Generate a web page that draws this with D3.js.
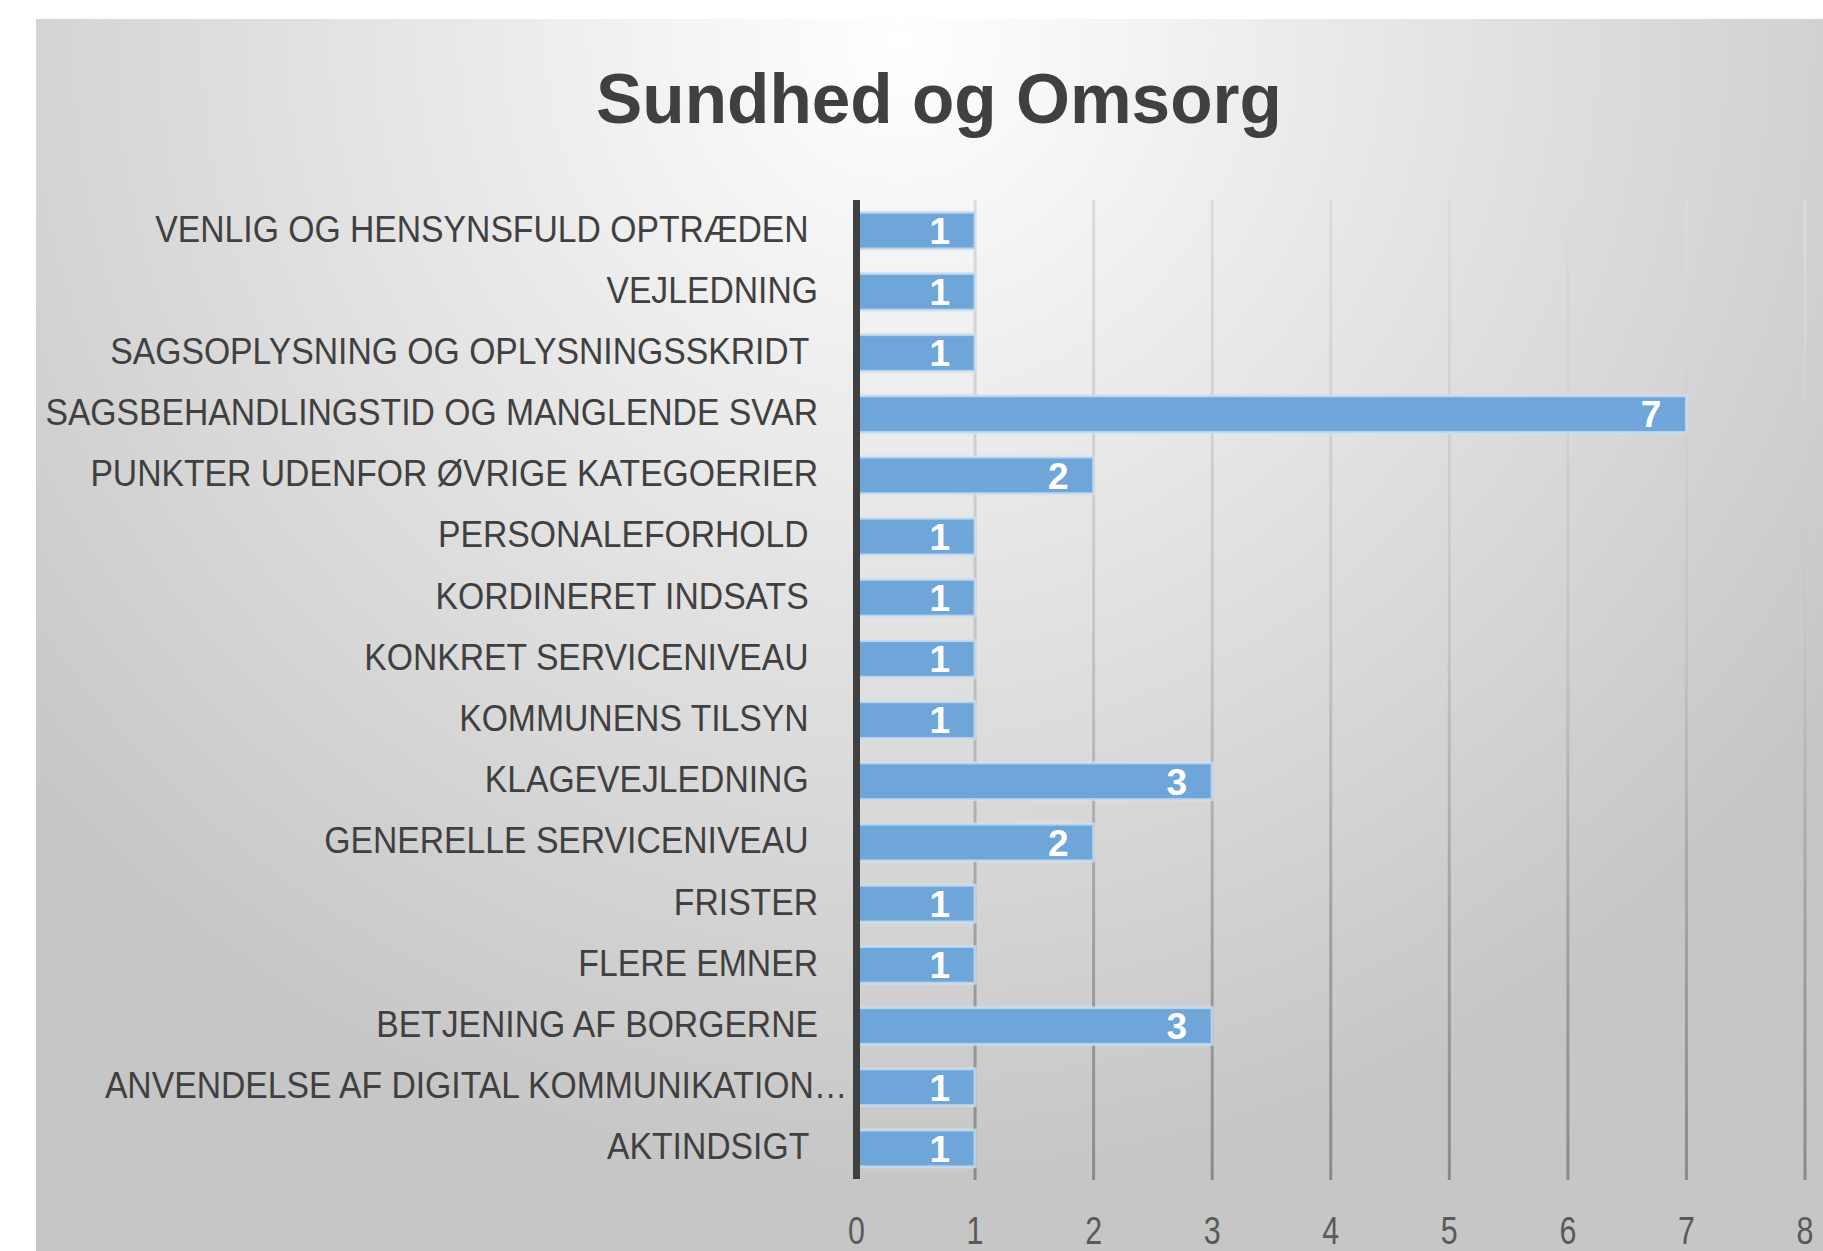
<!DOCTYPE html>
<html>
<head>
<meta charset="utf-8">
<script src="https://cdn.jsdelivr.net/npm/d3@7"></script>
<style>
  body { margin: 0; background: #fff; }
  text { font-family: "Liberation Sans", Arial, sans-serif; white-space: pre; }
</style>
</head>
<body>
<svg id="chart" width="1823" height="1251"></svg>
<script>
// categories as Excel stores them (drawn bottom to top)
const categories = [
  'AKTINDSIGT ',
  'ANVENDELSE AF DIGITAL KOMMUNIKATION…',
  'BETJENING AF BORGERNE',
  'FLERE EMNER',
  'FRISTER',
  'GENERELLE SERVICENIVEAU ',
  'KLAGEVEJLEDNING ',
  'KOMMUNENS TILSYN ',
  'KONKRET SERVICENIVEAU ',
  'KORDINERET INDSATS ',
  'PERSONALEFORHOLD ',
  'PUNKTER UDENFOR ØVRIGE KATEGOERIER',
  'SAGSBEHANDLINGSTID OG MANGLENDE SVAR',
  'SAGSOPLYSNING OG OPLYSNINGSSKRIDT ',
  'VEJLEDNING',
  'VENLIG OG HENSYNSFULD OPTRÆDEN '
];
const values = [1, 1, 3, 1, 1, 2, 3, 1, 1, 1, 1, 2, 7, 1, 1, 1];
const ticks = [0, 1, 2, 3, 4, 5, 6, 7, 8];
const title = 'Sundhed og Omsorg';

const svg = d3.select('#chart');
const defs = svg.append('defs');

// background glow
const bg = defs.append('radialGradient')
  .attr('id', 'bg')
  .attr('gradientUnits', 'userSpaceOnUse')
  .attr('cx', 900).attr('cy', 40).attr('r', 1150);
bg.append('stop').attr('offset', '0%').attr('stop-color', '#ffffff');
bg.append('stop').attr('offset', '100%').attr('stop-color', '#c6c6c6');

// gridlines get darker towards the bottom
const gg = defs.append('linearGradient')
  .attr('id', 'grid')
  .attr('gradientUnits', 'userSpaceOnUse')
  .attr('x1', 0).attr('y1', 200).attr('x2', 0).attr('y2', 1180);
gg.append('stop').attr('offset', '0%').attr('stop-color', '#dcdcdc');
gg.append('stop').attr('offset', '46%').attr('stop-color', '#c4c4c4');
gg.append('stop').attr('offset', '75%').attr('stop-color', '#a0a0a0');
gg.append('stop').attr('offset', '100%').attr('stop-color', '#8a8a8a');

svg.append('rect')
  .attr('x', 36).attr('y', 19)
  .attr('width', 1823 - 36).attr('height', 1251 - 19)
  .attr('fill', 'url(#bg)');

const x = d3.scaleLinear().domain([0, 8]).range([856.5, 1805]);
const y = d3.scaleBand()
  .domain(categories.slice().reverse())
  .range([200, 1179])
  .paddingInner(0.4)
  .paddingOuter(0.2);

// gridlines
svg.append('g')
  .selectAll('line')
  .data(ticks.slice(1))
  .enter()
  .append('line')
  .attr('x1', d => x(d)).attr('x2', d => x(d))
  .attr('y1', 200).attr('y2', 1180)
  .attr('stroke', 'url(#grid)')
  .attr('stroke-width', 3);

// bars
svg.append('g')
  .selectAll('rect')
  .data(categories)
  .enter()
  .append('rect')
  .attr('x', x(0))
  .attr('y', d => y(d))
  .attr('width', (d, i) => x(values[i]) - x(0))
  .attr('height', y.bandwidth())
  .attr('fill', '#6fa6da')
  .attr('stroke', '#cfe0f2')
  .attr('stroke-opacity', 0.75)
  .attr('stroke-width', 3);

// value labels
svg.append('g')
  .selectAll('text')
  .data(categories)
  .enter()
  .append('text')
  .attr('x', (d, i) => x(values[i]) - 25)
  .attr('y', d => y(d) + y.bandwidth() / 2)
  .attr('dy', '0.36em')
  .attr('text-anchor', 'end')
  .attr('font-size', 37)
  .attr('font-weight', 'bold')
  .attr('fill', '#ffffff')
  .text((d, i) => values[i]);

// category axis line
svg.append('line')
  .attr('x1', x(0)).attr('x2', x(0))
  .attr('y1', 200).attr('y2', 1179)
  .attr('stroke', '#404040')
  .attr('stroke-width', 7);

// category labels, squeezed sideways like the original
const labels = svg.append('g')
  .selectAll('g')
  .data(categories)
  .enter()
  .append('g');
labels.append('text')
  .attr('text-anchor', 'end')
  .attr('dy', '0.35em')
  .attr('font-size', 37)
  .attr('fill', '#404040')
  .text(d => d);
let longest = labels.filter(d => d.startsWith('SAGSBEHANDLING')).select('text').node().getComputedTextLength();
const sx = 773 / longest;
labels.attr('transform', d => {
  const right = d.endsWith('…') ? x(0) - 9 : x(0) - 38.5;
  return 'translate(' + right + ',' + (y(d) + y.bandwidth() / 2 - 2) + ') scale(' + sx + ',1)';
});

// value axis labels
svg.append('g')
  .selectAll('text')
  .data(ticks)
  .enter()
  .append('text')
  .attr('x', d => x(d))
  .attr('y', 1230)
  .attr('dy', '0.36em')
  .attr('text-anchor', 'middle')
  .attr('font-size', 38)
  .attr('fill', '#595959')
  .attr('transform', d => 'translate(' + x(d) + ',0) scale(0.8,1) translate(' + (-x(d)) + ',0)')
  .text(d => d);

// title
const t = svg.append('text')
  .attr('text-anchor', 'middle')
  .attr('font-size', 70)
  .attr('font-weight', 'bold')
  .attr('fill', '#404040')
  .text(title);
const tx = 686 / t.node().getComputedTextLength();
t.attr('transform', 'translate(939,123) scale(' + tx + ',1)');
</script>
</body>
</html>
